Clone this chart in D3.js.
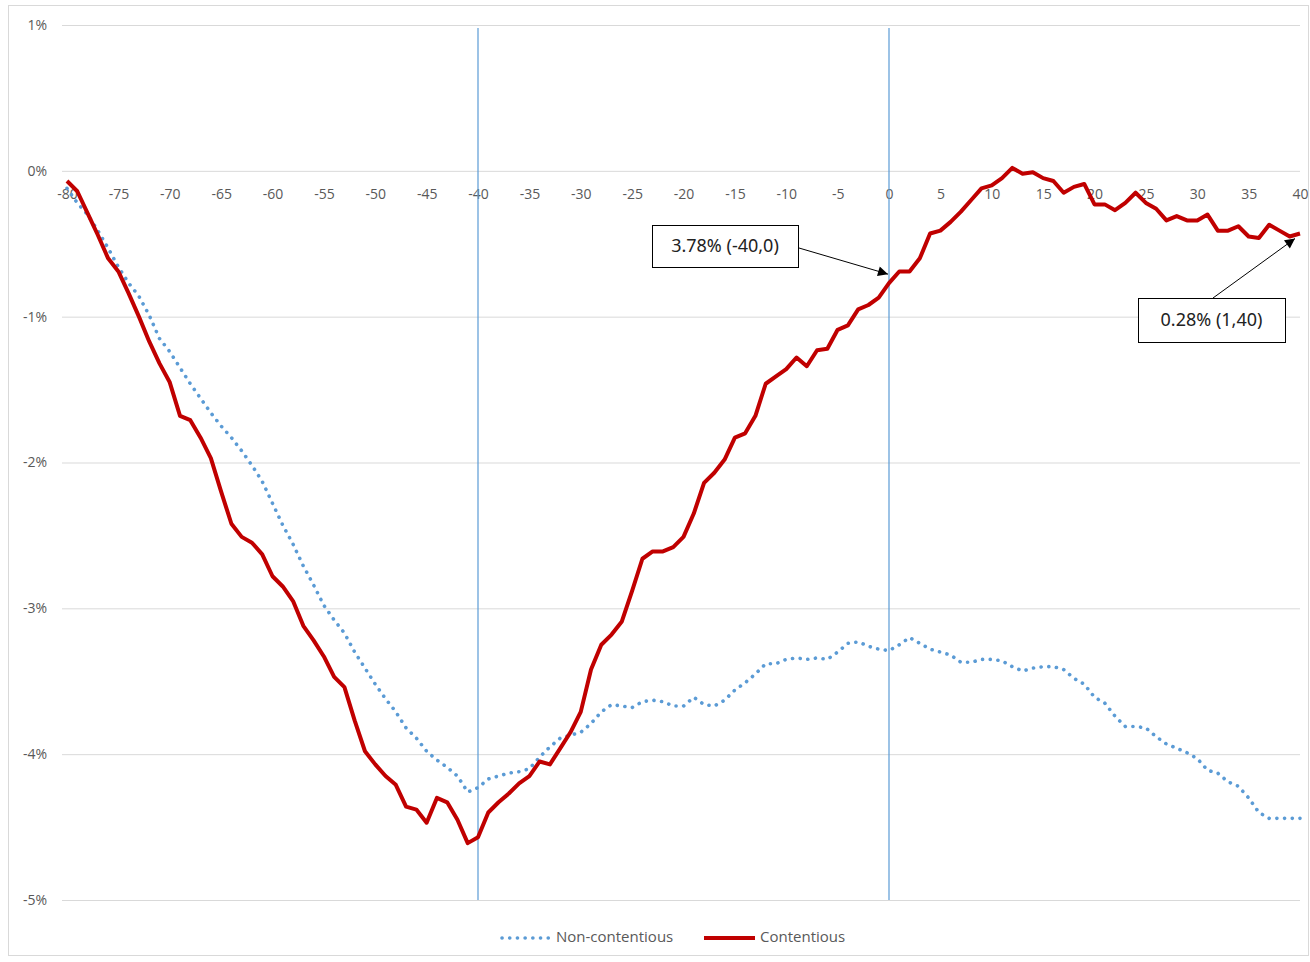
<!DOCTYPE html>
<html>
<head>
<meta charset="utf-8">
<script src="https://cdn.jsdelivr.net/npm/d3@7"></script>
<style>
  body { margin: 0; background: #fff; }
  svg text { font-family: "Open Sans", "Noto Sans", sans-serif; }
</style>
</head>
<body>
<div id="chart"></div>
<script>
// days relative to the event, one value per day
const days = d3.range(-80, 41);

// cumulative change, in %
const nonContentious = [
  -0.12, -0.22, -0.30, -0.41, -0.53, -0.66, -0.77, -0.86, -0.99, -1.15,
  -1.24, -1.35, -1.46, -1.56, -1.66, -1.75, -1.83, -1.92, -2.02, -2.13,
  -2.28, -2.43, -2.56, -2.71, -2.84, -2.98, -3.08, -3.17, -3.30, -3.41,
  -3.52, -3.62, -3.71, -3.82, -3.89, -3.98, -4.04, -4.09, -4.15, -4.26,
  -4.23, -4.17, -4.15, -4.13, -4.12, -4.10, -4.02, -3.95, -3.89, -3.87,
  -3.85, -3.79, -3.71, -3.66, -3.67, -3.68, -3.64, -3.63, -3.64, -3.67,
  -3.67, -3.61, -3.66, -3.67, -3.63, -3.56, -3.51, -3.45, -3.38, -3.38,
  -3.35, -3.34, -3.35, -3.34, -3.35, -3.30, -3.24, -3.23, -3.26, -3.28,
  -3.29, -3.25, -3.20, -3.24, -3.28, -3.30, -3.32, -3.37, -3.37, -3.35,
  -3.35, -3.36, -3.40, -3.43, -3.41, -3.40, -3.40, -3.42, -3.48, -3.52,
  -3.61, -3.65, -3.74, -3.81, -3.81, -3.82, -3.88, -3.93, -3.96, -3.99,
  -4.03, -4.11, -4.13, -4.19, -4.22, -4.30, -4.40, -4.44, -4.44, -4.44,
  -4.44
];

const contentious = [
  -0.07, -0.14, -0.29, -0.44, -0.60, -0.69, -0.84, -1.00, -1.17, -1.32,
  -1.45, -1.68, -1.71, -1.83, -1.97, -2.20, -2.42, -2.51, -2.55, -2.63,
  -2.78, -2.85, -2.95, -3.12, -3.22, -3.33, -3.47, -3.54, -3.77, -3.98,
  -4.07, -4.15, -4.21, -4.36, -4.38, -4.47, -4.30, -4.33, -4.45, -4.61,
  -4.57, -4.40, -4.33, -4.27, -4.20, -4.15, -4.05, -4.07, -3.96, -3.85,
  -3.71, -3.42, -3.25, -3.18, -3.09, -2.88, -2.66, -2.61, -2.61, -2.58,
  -2.51, -2.35, -2.14, -2.07, -1.98, -1.83, -1.80, -1.68, -1.46, -1.41,
  -1.36, -1.28, -1.34, -1.23, -1.22, -1.09, -1.06, -0.95, -0.92, -0.87,
  -0.77, -0.69, -0.69, -0.60, -0.43, -0.41, -0.35, -0.28, -0.20, -0.12,
  -0.10, -0.05,  0.02, -0.02, -0.01, -0.05, -0.07, -0.15, -0.11, -0.09,
  -0.23, -0.23, -0.27, -0.22, -0.15, -0.22, -0.26, -0.34, -0.31, -0.34,
  -0.34, -0.30, -0.41, -0.41, -0.38, -0.45, -0.46, -0.37, -0.41, -0.45,
  -0.43
];

const yTicks = [1, 0, -1, -2, -3, -4, -5];
const xTicks = d3.range(-80, 41, 5);
const markerDays = [-40, 0];
const seriesNames = ["Non-contentious", "Contentious"];
const noteTexts = ["3.78% (-40,0)", "0.28% (1,40)"];
const noteDays = [0, 40];

const width = 1310, height = 962;
const blue = "#5b9bd5", red = "#c00000", grid = "#d9d9d9", label = "#595959";

const x = d3.scaleLinear().domain([-80, 40]).range([67, 1300]);
const y = d3.scaleLinear().domain([1, -5]).range([25, 900]);

const svg = d3.select("#chart").append("svg")
  .attr("width", width)
  .attr("height", height);

// chart frame
svg.append("rect")
  .attr("x", 8.5).attr("y", 5.5)
  .attr("width", 1300).attr("height", 950)
  .attr("fill", "none").attr("stroke", grid);

// horizontal gridlines + y labels (plain hyphen, like the original)
svg.append("g")
  .attr("transform", "translate(62,0)")
  .call(d3.axisLeft(y).tickValues(yTicks).tickSize(-(1300 - 62)).tickFormat(d => String(d) + "%").tickPadding(15))
  .call(g => g.select(".domain").remove())
  .call(g => g.selectAll("line").attr("stroke", grid).attr("stroke-width", 1))
  .call(g => g.selectAll("text").attr("fill", label).attr("font-size", 14));

// x labels sitting under the zero line
svg.append("g")
  .attr("transform", "translate(0," + y(0) + ")")
  .call(d3.axisBottom(x).tickValues(xTicks).tickSize(0).tickPadding(18).tickFormat(d => String(d)))
  .call(g => g.select(".domain").remove())
  .call(g => g.selectAll("text").attr("fill", label).attr("font-size", 14));

// vertical markers at -40 and 0
svg.selectAll(".marker")
  .data(markerDays)
  .enter()
  .append("line")
  .attr("x1", d => x(d)).attr("x2", d => x(d))
  .attr("y1", y(1) + 3).attr("y2", y(-5))
  .attr("stroke", blue).attr("stroke-width", 1.2);

const line = d3.line()
  .x((d, i) => x(days[i]))
  .y(d => y(d));

svg.append("path")
  .datum(nonContentious)
  .attr("d", line)
  .attr("fill", "none")
  .attr("stroke", blue)
  .attr("stroke-width", 3.6)
  .attr("stroke-linecap", "round")
  .attr("stroke-dasharray", "0.1 7.6");

svg.append("path")
  .datum(contentious)
  .attr("d", line)
  .attr("fill", "none")
  .attr("stroke", red)
  .attr("stroke-width", 4)
  .attr("stroke-linejoin", "round");

// arrowhead
svg.append("defs").append("marker")
  .attr("id", "arrow")
  .attr("viewBox", "0 0 10 10")
  .attr("refX", 10).attr("refY", 5)
  .attr("markerWidth", 14).attr("markerHeight", 10)
  .attr("markerUnits", "userSpaceOnUse")
  .attr("orient", "auto")
  .append("path").attr("d", "M0,0L10,5L0,10Z").attr("fill", "#000");

// callouts
const boxes = [
  {x: 652, y: 225, w: 146, h: 42, fromX: 799, fromY: 248, dx: -1, dy: -9},
  {x: 1138, y: 298, w: 147, h: 44, fromX: 1213, fromY: 298, dx: -5, dy: 5}
];

boxes.forEach((b, i) => {
  const day = noteDays[i];
  const val = contentious[days.indexOf(day)];
  svg.append("line")
    .attr("x1", b.fromX).attr("y1", b.fromY)
    .attr("x2", x(day) + b.dx).attr("y2", y(val) + b.dy)
    .attr("stroke", "#000").attr("stroke-width", 1)
    .attr("marker-end", "url(#arrow)");
  svg.append("rect")
    .attr("x", b.x + 0.5).attr("y", b.y + 0.5)
    .attr("width", b.w).attr("height", b.h)
    .attr("fill", "#fff").attr("stroke", "#000").attr("stroke-width", 1);
  svg.append("text")
    .attr("x", b.x + b.w / 2).attr("y", b.y + b.h / 2 + 1)
    .attr("text-anchor", "middle")
    .attr("dominant-baseline", "middle")
    .attr("font-size", 18)
    .attr("fill", "#222")
    .style("font-family", "'Noto Sans', sans-serif")
    .text(noteTexts[i]);
});

// legend
const legend = svg.append("g").attr("transform", "translate(0,938)");
const legendItems = [
  {x: 500, color: blue, dash: "0.1 7.6", w: 3.6, cap: "round"},
  {x: 704, color: red, dash: null, w: 4, cap: "butt"}
];
legendItems.forEach((it, i) => {
  legend.append("line")
    .attr("x1", it.x + (it.cap === "round" ? 2 : 0)).attr("x2", it.x + 51)
    .attr("y1", 0).attr("y2", 0)
    .attr("stroke", it.color).attr("stroke-width", it.w)
    .attr("stroke-linecap", it.cap)
    .attr("stroke-dasharray", it.dash);
  legend.append("text")
    .attr("x", it.x + 56).attr("y", 0)
    .attr("dominant-baseline", "middle")
    .attr("font-size", 15)
    .attr("fill", label)
    .text(seriesNames[i]);
});
</script>
</body>
</html>
